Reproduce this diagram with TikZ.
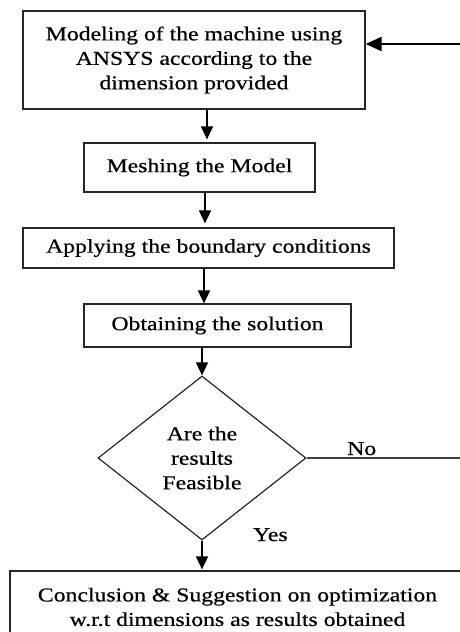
\documentclass[tikz,border=0pt]{standalone}
\usepackage{fontspec}
\setmainfont{Liberation Serif}[FakeStretch=1.21,FakeBold=0.6]
\usetikzlibrary{shapes.geometric,arrows.meta}
\begin{document}
\begin{tikzpicture}[x=1pt,y=-1pt,
  every node/.style={font=\fontsize{19.6}{24.5}\selectfont},
  stepbox/.style={draw=black!85,line width=1.2pt,rectangle,align=center,inner sep=0pt},
  decision/.style={draw=black!85,line width=1.2pt,diamond,align=center,inner sep=0pt,shape aspect=1.27,minimum width=208pt,minimum height=164pt},
  arr/.style={line width=1.6pt,-{Triangle[length=13pt,width=12pt]}},
  backarr/.style={line width=2.2pt,-{Triangle[length=16pt,width=14pt]}},
  noline/.style={line width=1.1pt,draw=black!75},
  lbl/.style={inner sep=0pt,anchor=base west}]
\useasboundingbox (0,0) rectangle (460,632);
\fill[white] (0,0) rectangle (460,632);

\node[stepbox,minimum width=342pt,minimum height=98pt] (b1) at (194,60)
  {Modeling of the machine using\\ANSYS according to the\\dimension provided};
\node[stepbox,minimum width=231pt,minimum height=49pt] (b2) at (199.5,167.5)
  {Meshing the Model};
\node[stepbox,minimum width=371pt,minimum height=40pt] (b3) at (208.5,248)
  {Applying the boundary conditions};
\node[stepbox,minimum width=267pt,minimum height=43pt] (b4) at (217.5,325.5)
  {Obtaining the solution};
\node[decision] (d) at (202,458)
  {Are the\\results\\Feasible};
\node[stepbox,minimum width=455pt,minimum height=72pt] (b5) at (237.5,607)
  {Conclusion \& Suggestion on optimization\\w.r.t dimensions as results obtained};

\node[lbl] (no) at (347,455) {No};
\node[lbl] (yes) at (253,541) {Yes};

\coordinate (c1) at (207,0);
\coordinate (c2) at (205,0);
\coordinate (c3) at (204,0);
\coordinate (c4) at (202,0);
\coordinate (c5) at (202,0);
\coordinate (r) at (475,0);
\coordinate (ty) at (0,44);

\draw[arr] (c1 |- b1.south) -- ([yshift=3pt]c1 |- b2.north);
\draw[arr] (c2 |- b2.south) -- ([yshift=4pt]c2 |- b3.north);
\draw[arr] (c3 |- b3.south) -- (c3 |- b4.north);
\draw[arr] (c4 |- b4.south) -- (d.north);
\draw[arr] (d.south) -- ([yshift=1pt]c5 |- b5.north);

\draw[noline] (d.east) -- (d.east -| r) -- (r |- ty);
\draw[backarr] (r |- ty) -- (b1.east |- ty);
\end{tikzpicture}
\end{document}
